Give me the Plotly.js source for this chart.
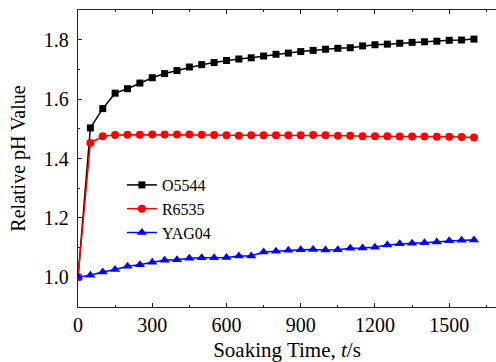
<!DOCTYPE html>
<html>
<head>
<meta charset="utf-8">
<script src="https://cdn.plot.ly/plotly-3.0.1.min.js"></script>
<style>html,body{margin:0;padding:0;background:#fff;overflow:hidden}#chart{width:496px;height:362px}</style>
</head>
<body>
<div id="chart"></div>
<script>
const time = [0,50,100,150,200,250,300,350,400,450,500,550,600,650,700,750,800,850,900,950,1000,1050,1100,1150,1200,1250,1300,1350,1400,1450,1500,1550,1600];
const o5544 = [1.000,1.503,1.568,1.620,1.635,1.654,1.672,1.686,1.696,1.708,1.716,1.723,1.730,1.735,1.739,1.745,1.751,1.755,1.760,1.764,1.768,1.771,1.773,1.779,1.783,1.785,1.788,1.791,1.793,1.795,1.798,1.799,1.802];
const r6535 = [1.000,1.452,1.475,1.479,1.480,1.480,1.481,1.481,1.481,1.481,1.480,1.479,1.478,1.477,1.478,1.478,1.478,1.478,1.478,1.479,1.478,1.477,1.477,1.475,1.475,1.475,1.474,1.474,1.474,1.473,1.473,1.472,1.471];
const yag04 = [1.000,1.007,1.018,1.026,1.037,1.042,1.051,1.057,1.059,1.064,1.066,1.066,1.067,1.072,1.072,1.085,1.088,1.091,1.093,1.094,1.092,1.093,1.098,1.099,1.101,1.109,1.113,1.115,1.116,1.119,1.123,1.125,1.126];
const names = ['O5544','R6535','YAG04'];
const xTicks = [0,300,600,900,1200,1500];
const yTicks = [1.0,1.2,1.4,1.6,1.8];

const font = 'Liberation Serif, Times New Roman, serif';
const traces = [
  {x: time, y: o5544, name: names[0], mode: 'lines+markers', line: {color: '#000000', width: 1.5}, marker: {symbol: 'square', size: 7, color: '#000000'}},
  {x: time, y: r6535, name: names[1], mode: 'lines+markers', line: {color: '#ff0000', width: 1.5}, marker: {symbol: 'circle', size: 8, color: '#ff0000'}},
  {x: time, y: yag04, name: names[2], mode: 'lines+markers', line: {color: '#0000ff', width: 1.5}, marker: {symbol: 'triangle-up', size: 9, color: '#0000ff'}}
];
const axisCommon = {
  showgrid: false, zeroline: false, showline: true, linecolor: '#222', linewidth: 1.3,
  ticks: 'inside', ticklen: 4, tickwidth: 1, tickcolor: '#222',
  tickfont: {family: font, size: 20, color: '#000'}
};
const layout = {
  width: 496, height: 362,
  margin: {l: 78, r: 0, t: 10, b: 55},
  paper_bgcolor: '#fff', plot_bgcolor: '#fff',
  font: {family: font, color: '#000'},
  showlegend: true,
  legend: {x: 0.105, y: 0.468, xanchor: 'left', yanchor: 'top', bgcolor: 'rgba(0,0,0,0)', font: {family: font, size: 16, color: '#000'}, tracegroupgap: 0},
  xaxis: Object.assign({}, axisCommon, {
    mirror: 'ticks',
    range: [0, 1689], tickvals: xTicks, ticktext: xTicks.map(String),
    minor: {dtick: 150, tick0: 0, ticks: 'inside', ticklen: 2, tickcolor: '#222'},
    title: {text: 'Soaking Time, <i>t</i>/s', font: {family: font, size: 21, color: '#000'}, standoff: 8}
  }),
  yaxis: Object.assign({}, axisCommon, {
    mirror: false,
    range: [0.9, 1.9], tickvals: yTicks, ticktext: yTicks.map(v => v.toFixed(1)),
    minor: {dtick: 0.1, tick0: 0, ticks: 'inside', ticklen: 2, tickcolor: '#222'},
    ticklabelstandoff: 4,
    title: {text: 'Relative pH Value', font: {family: font, size: 20, color: '#000'}, standoff: 12}
  })
};
Plotly.newPlot('chart', traces, layout, {displayModeBar: false, staticPlot: true});
</script>
</body>
</html>
